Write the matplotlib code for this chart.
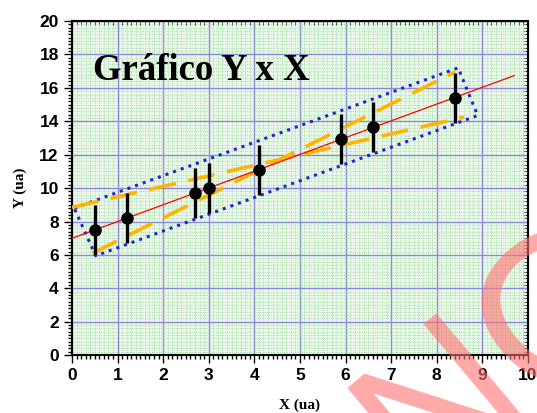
import matplotlib
matplotlib.use("Agg")
import matplotlib.pyplot as plt
import numpy as np
from matplotlib.ticker import MultipleLocator

# pontos medidos
x = [0.5, 1.2, 2.7, 3.0, 4.1, 5.9, 6.6, 8.4]
y = [7.5, 8.2, 9.7, 10.0, 11.1, 12.95, 13.65, 15.4]
erro_y = [1.5, 1.5, 1.5, 1.5, 1.5, 1.5, 1.5, 1.5]

# reta ajustada (extremos lidos)
reta_x = [0.0, 9.7]

# retas de inclinação máxima e mínima
max_x = [0.45, 8.4]
max_y = [6.1, 16.95]
min_x = [0.0, 8.6]
min_y = [8.85, 14.25]

# paralelogramo de incertezas
caixa_x = [0.05, 8.47, 8.9, 0.52, 0.05]
caixa_y = [8.8, 17.2, 14.35, 5.95, 8.8]

fig = plt.figure(figsize=(5.37, 4.13), dpi=100)
ax = fig.add_axes([0.134, 0.140, 0.849, 0.809])
ax.set_facecolor('#eaf8ea')

ax.set_xlim(0, 10)
ax.set_ylim(0, 20)
ax.xaxis.set_major_locator(MultipleLocator(1))
ax.xaxis.set_minor_locator(MultipleLocator(0.1))
ax.yaxis.set_major_locator(MultipleLocator(2))
ax.yaxis.set_minor_locator(MultipleLocator(0.2))

ax.grid(True, which='minor', color='#98d698', linestyle=':', linewidth=0.6, zorder=0)
ax.grid(True, which='major', color='#8a8ad8', linestyle='-', linewidth=1.0, zorder=0)
ax.set_axisbelow(True)

for s in ax.spines.values():
    s.set_linewidth(1.5)

ax.tick_params(which='both', direction='out', width=1, top=False, right=False)
ax.tick_params(which='major', length=6)
ax.tick_params(which='minor', length=3)

sec_top = ax.secondary_xaxis('top')
sec_top.xaxis.set_major_locator(MultipleLocator(1))
sec_top.xaxis.set_minor_locator(MultipleLocator(0.1))
sec_top.tick_params(which='both', direction='in', labeltop=False)
sec_top.tick_params(which='major', length=6)
sec_top.tick_params(which='minor', length=3)
sec_r = ax.secondary_yaxis('right')
sec_r.yaxis.set_major_locator(MultipleLocator(2))
sec_r.yaxis.set_minor_locator(MultipleLocator(0.2))
sec_r.tick_params(which='both', direction='in', labelright=False)
sec_r.tick_params(which='major', length=6)
sec_r.tick_params(which='minor', length=3)

for lab in ax.get_xticklabels() + ax.get_yticklabels():
    lab.set_fontfamily('Liberation Sans')
    lab.set_fontweight('bold')
    lab.set_fontsize(12.5)

ax.set_xlabel('X (ua)', family='Liberation Serif', fontweight='bold', fontsize=11, labelpad=11)
ax.set_ylabel('Y (ua)', family='Liberation Serif', fontweight='bold', fontsize=11, labelpad=9)

# caixa pontilhada
ax.plot(caixa_x, caixa_y, color='#2222dd', linestyle=':', linewidth=2.2, zorder=3)

# retas extremas
ax.plot(max_x, max_y, color='#ffb400', linestyle=(0, (7.5, 3.5)), linewidth=2.6, zorder=3)
ax.plot(min_x, min_y, color='#ffb400', linestyle=(0, (7.5, 3.5)), linewidth=2.6, zorder=3)

# ajuste linear
a, b = np.polyfit(x, y, 1)
rx = np.array(reta_x)
ax.plot(rx, a * rx + b, color='red', linewidth=0.9, zorder=4)

ax.errorbar(x, y, yerr=erro_y, fmt='o', color='black', markersize=8,
            elinewidth=2.4, capsize=0, zorder=5)

ax.text(0.46, 16.45, 'Gráfico Y x X', family='Liberation Serif', fontweight='bold',
        fontsize=26.5, ha='left', va='baseline', zorder=6)

# marca d'água
fig.text(0.945, 0.14, 'NO', family='Liberation Sans', fontsize=150, color='#ff7070',
         alpha=0.6, rotation=40, ha='center', va='center', rotation_mode='anchor', zorder=10)

fig.savefig('out.png', dpi=100)
